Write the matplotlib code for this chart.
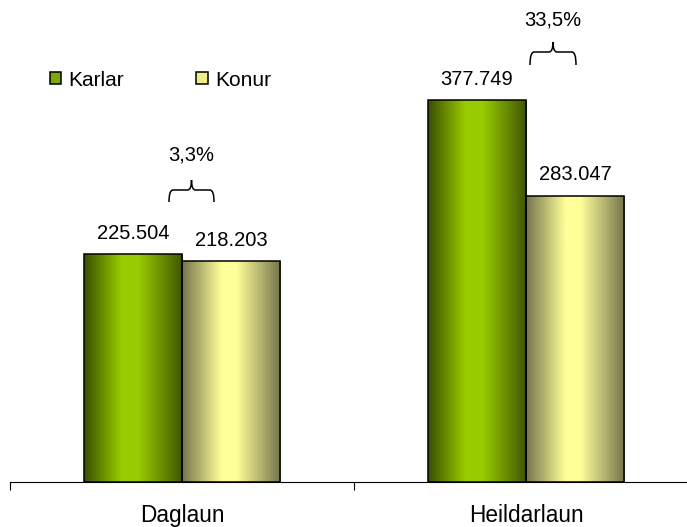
import matplotlib

matplotlib.use("Agg")

import matplotlib.pyplot as plt  # noqa: E402
import numpy as np  # noqa: E402
from matplotlib.colors import LinearSegmentedColormap  # noqa: E402
from matplotlib.patches import PathPatch, Rectangle  # noqa: E402
from matplotlib.path import Path  # noqa: E402

# ── data ───────────────────────────────────────────────────────────────────────

categories = ["Daglaun", "Heildarlaun"]
series_names = ["Karlar", "Konur"]
karlar = [225504, 377749]
konur = [218203, 283047]

# ── style ──────────────────────────────────────────────────────────────────────

plt.rcParams["font.family"] = ["Liberation Sans", "DejaVu Sans"]
_FS = 14.5
_FS_CAT = 16.3
_FS_LEG = 15
_W, _H = 687, 527
_BAR_W = 0.285
_CMAPS = [
    LinearSegmentedColormap.from_list(
        "karlar", [(0, "#3a4f00"), (0.38, "#99cc00"), (0.55, "#99cc00"), (1, "#3f5500")]
    ),
    LinearSegmentedColormap.from_list(
        "konur", [(0, "#74744c"), (0.4, "#ffff99"), (0.55, "#ffff99"), (1, "#74744c")]
    ),
]
_LEGEND_COLORS = ["#7fa800", "#eeee88"]


def fmt(v):
    return f"{v:,}".replace(",", ".")


def gradient_bar(ax, x, h, cmap):
    grad = np.linspace(0, 1, 256).reshape(1, -1)
    rect = Rectangle((x - _BAR_W / 2, 0), _BAR_W, h, facecolor="none",
                     edgecolor="black", linewidth=1.1, zorder=3)
    ax.add_patch(rect)
    im = ax.imshow(grad, cmap=cmap, aspect="auto", zorder=2,
                   extent=(x - _BAR_W / 2, x + _BAR_W / 2, 0, h))
    im.set_clip_path(rect)


def brace(fig, x0, x1, y_end, y_mid, y_tip):
    # coordinates in figure pixels from top-left
    def p(x, y):
        return (x / _W, 1 - y / _H)
    xc = (x0 + x1) / 2
    r = 4
    verts = [
        p(x0, y_end), p(x0, y_mid), p(x0 + r, y_mid),
        p(xc - r, y_mid), p(xc, y_mid), p(xc, y_tip),
        p(xc, y_mid), p(xc + r, y_mid),
        p(x1 - r, y_mid), p(x1, y_mid), p(x1, y_end),
    ]
    codes = [Path.MOVETO, Path.CURVE3, Path.CURVE3,
             Path.LINETO, Path.CURVE3, Path.CURVE3,
             Path.CURVE3, Path.CURVE3,
             Path.LINETO, Path.CURVE3, Path.CURVE3]
    fig.patches.append(PathPatch(Path(verts, codes), transform=fig.transFigure,
                                 fill=False, edgecolor="black", linewidth=1.1))


fig = plt.figure(figsize=(_W / 100, _H / 100), dpi=100)
ax = fig.add_axes([10 / _W, 45 / _H, 688 / _W, 482 / _H])

x = np.arange(len(categories))
for i in range(len(categories)):
    gradient_bar(ax, x[i] - _BAR_W / 2, karlar[i], _CMAPS[0])
    gradient_bar(ax, x[i] + _BAR_W / 2, konur[i], _CMAPS[1])
    for dx, v in ((-_BAR_W / 2, karlar[i]), (_BAR_W / 2, konur[i])):
        ax.annotate(fmt(v), (x[i] + dx, v), xytext=(0, 15), textcoords="offset points",
                    ha="center", va="center", fontsize=_FS)

ax.set_xlim(-0.5, len(categories) - 0.5)
ax.set_ylim(0, 476600)
ax.set_xticks(x)
ax.set_xticklabels(categories, fontsize=_FS_CAT)
ax.set_xticks(np.arange(len(categories) + 1) - 0.5, minor=True)
ax.tick_params(axis="x", which="major", length=0, pad=16)
ax.tick_params(axis="x", which="minor", length=6, width=0.8, direction="out")
ax.set_yticks([])
for s in ("top", "right", "left"):
    ax.spines[s].set_visible(False)
ax.spines["bottom"].set_linewidth(0.8)

# percentage differences with braces
pcts = [(k / w - 1) * 100 for k, w in zip(karlar, konur)]
braces = [(169, 214, 202, 190, 180, 155), (530, 576, 65, 52, 42, 20)]
for pct, (bx0, bx1, ye, ym, yt, ty) in zip(pcts, braces):
    brace(fig, bx0, bx1, ye, ym, yt)
    fig.text((bx0 + bx1) / 2 / _W, 1 - ty / _H, f"{pct:.1f}%".replace(".", ","),
             ha="center", va="center", fontsize=_FS)

handles = [Rectangle((0, 0), 1, 1, facecolor=c, edgecolor="black", linewidth=1.1)
           for c in _LEGEND_COLORS]
fig.legend(handles, series_names, loc="center left", bbox_to_anchor=(50 / _W, 1 - 80 / _H),
           ncol=2, frameon=False, fontsize=_FS_LEG, handlelength=0.55, handleheight=0.55,
           handletextpad=0.35, columnspacing=3.45, borderpad=0, borderaxespad=0)

fig.savefig("out.png", dpi=100)
plt.close(fig)
